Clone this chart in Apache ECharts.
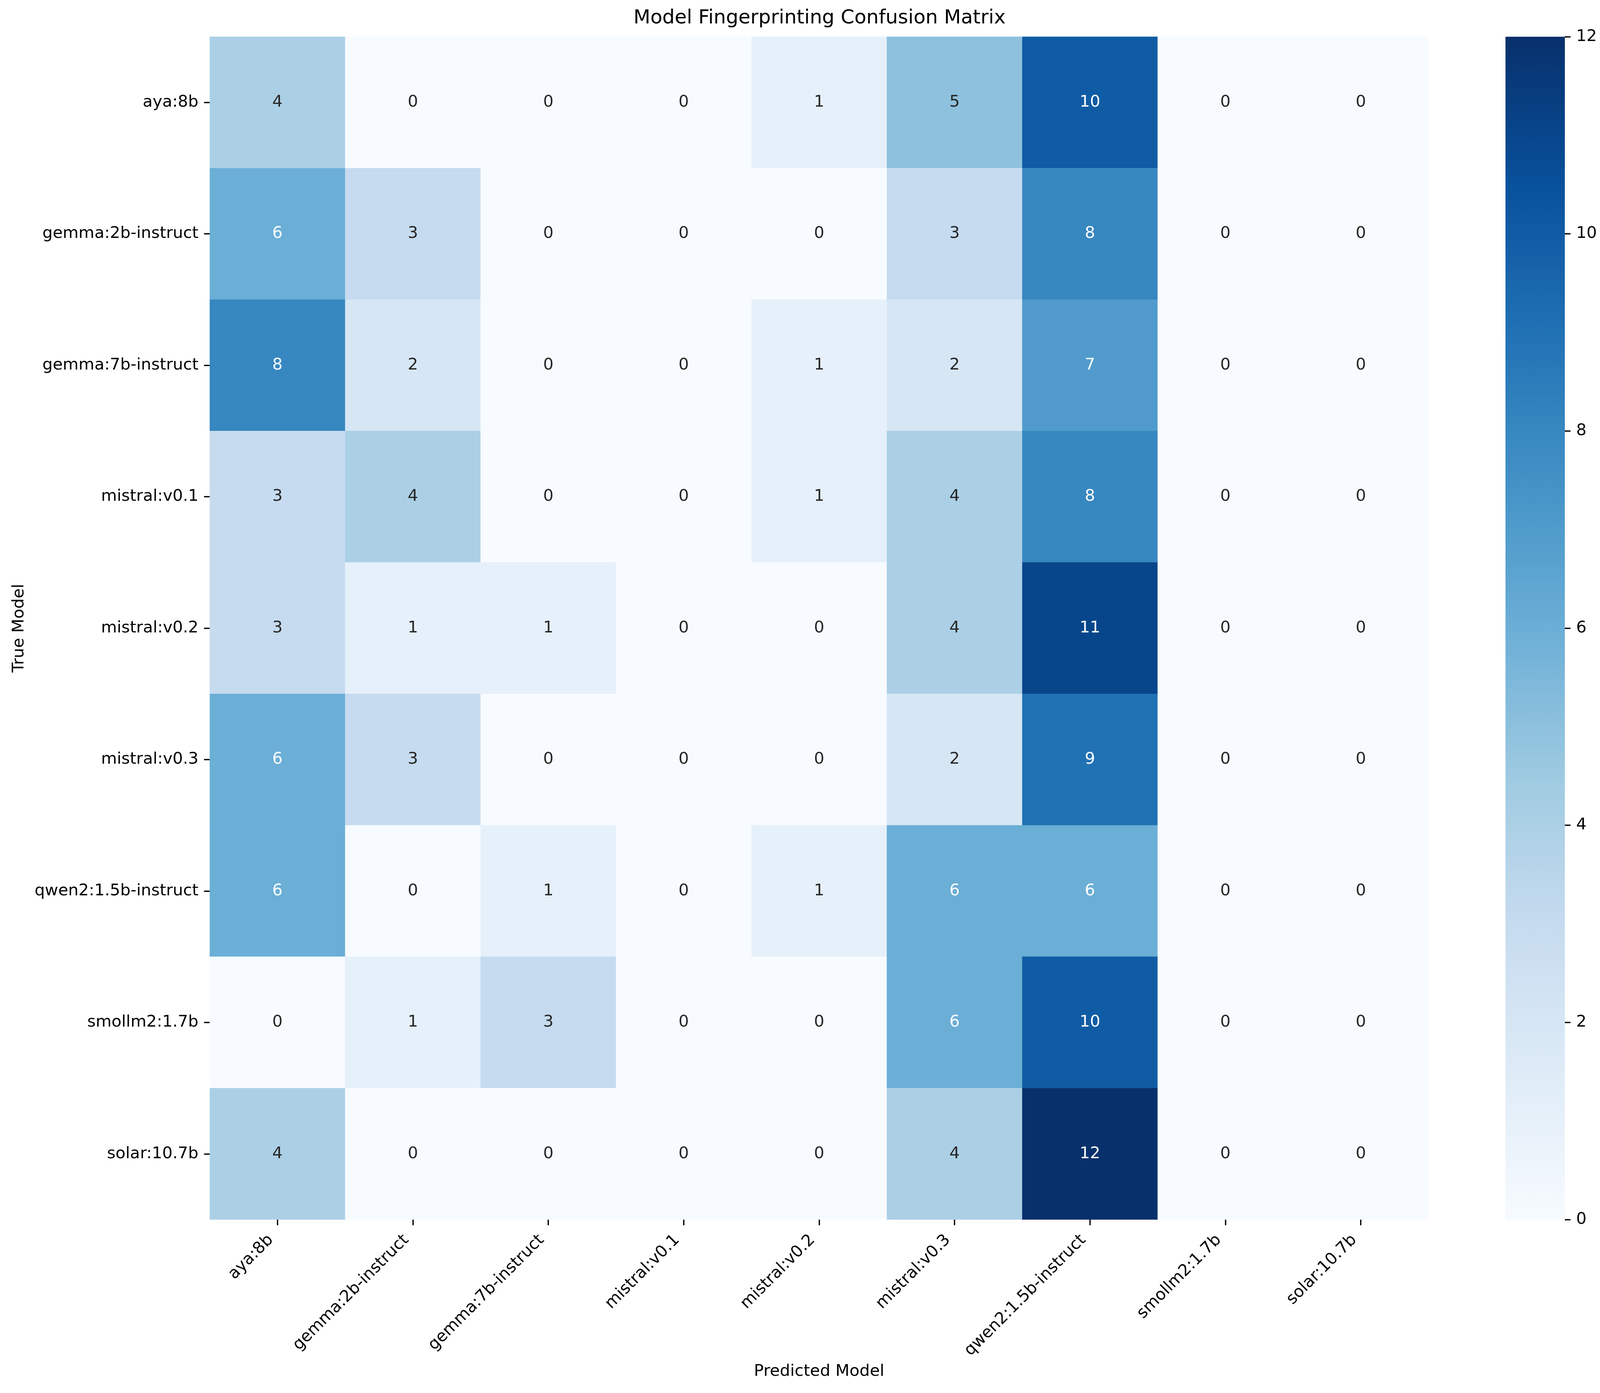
<!DOCTYPE html>
<html>
<head>
<meta charset="utf-8">
<script src="https://cdn.jsdelivr.net/npm/echarts@6/dist/echarts.min.js"></script>
<style>
html,body{margin:0;padding:0;background:#fff;}
#chart{width:4118px;height:3566px;}
</style>
</head>
<body>
<div id="chart"></div>
<script>
const titleText = 'Model Fingerprinting Confusion Matrix';
const xAxisName = 'Predicted Model';
const yAxisName = 'True Model';
const predictedModels = ['aya:8b','gemma:2b-instruct','gemma:7b-instruct','mistral:v0.1','mistral:v0.2','mistral:v0.3','qwen2:1.5b-instruct','smollm2:1.7b','solar:10.7b'];
const trueModels = ['aya:8b','gemma:2b-instruct','gemma:7b-instruct','mistral:v0.1','mistral:v0.2','mistral:v0.3','qwen2:1.5b-instruct','smollm2:1.7b','solar:10.7b'];
const row_aya8b        = [4,0,0,0,1,5,10,0,0];
const row_gemma2b      = [6,3,0,0,0,3,8,0,0];
const row_gemma7b      = [8,2,0,0,1,2,7,0,0];
const row_mistral01    = [3,4,0,0,1,4,8,0,0];
const row_mistral02    = [3,1,1,0,0,4,11,0,0];
const row_mistral03    = [6,3,0,0,0,2,9,0,0];
const row_qwen2        = [6,0,1,0,1,6,6,0,0];
const row_smollm2      = [0,1,3,0,0,6,10,0,0];
const row_solar        = [4,0,0,0,0,4,12,0,0];
const matrixRows = [row_aya8b,row_gemma2b,row_gemma7b,row_mistral01,row_mistral02,row_mistral03,row_qwen2,row_smollm2,row_solar];
const colorbarTicks = [0,2,4,6,8,10,12];
const vMin = 0, vMax = 12;

const blues = ['#f7fbff','#deebf7','#c6dbef','#9ecae1','#6baed6','#4292c6','#2171b5','#08519c','#08306b'];
const FONT = 'DejaVu Sans';
const FS = 41.67;

function hexToRgb(h){return [parseInt(h.slice(1,3),16),parseInt(h.slice(3,5),16),parseInt(h.slice(5,7),16)];}
function cmap(v){
  let t = (v - vMin)/(vMax - vMin); t = Math.max(0,Math.min(1,t));
  const p = t*(blues.length-1); const i = Math.min(Math.floor(p), blues.length-2); const f = p - i;
  const a = hexToRgb(blues[i]), b = hexToRgb(blues[i+1]);
  return a.map((c,k)=>c + (b[k]-c)*f);
}
function lum(rgb){
  const l = rgb.map(c=>{c/=255; return c<=0.03928? c/12.92 : Math.pow((c+0.055)/1.055,2.4);});
  return 0.2126*l[0]+0.7152*l[1]+0.0722*l[2];
}

const heatData = [];
matrixRows.forEach((row,i)=>{
  row.forEach((v,j)=>{
    const textColor = lum(cmap(v)) > 0.408 ? '#262626' : '#ffffff';
    heatData.push({value:[j,i,v], label:{color:textColor}});
  });
});

const chart = echarts.init(document.getElementById('chart'), null, {renderer:'canvas'});
const tickStyle = {color:'#000', width:3.33};
chart.setOption({
  animation:false,
  backgroundColor:'#fff',
  textStyle:{fontFamily:FONT},
  title:{
    text:titleText, left:2098, top:22, textAlign:'center', padding:0,
    textStyle:{fontFamily:FONT, fontSize:50, fontWeight:'normal', color:'#000'}
  },
  grid:[
    {left:537, right:461, top:94, bottom:444, containLabel:false},
    {left:3854, width:152, top:94, height:3028, containLabel:false}
  ],
  xAxis:[
    {type:'category', gridIndex:0, data:predictedModels, position:'bottom',
     name:xAxisName, nameLocation:'middle', nameGap:368,
     nameTextStyle:{fontFamily:FONT, fontSize:FS, color:'#000'},
     axisLine:{show:false},
     axisTick:{show:true, alignWithLabel:true, length:14.6, lineStyle:tickStyle},
     axisLabel:{rotate:45, margin:29, padding:[0,24,0,0], fontFamily:FONT, fontSize:FS, color:'#000', interval:0},
     splitLine:{show:false}},
    {type:'category', gridIndex:1, data:['cb'], show:false, boundaryGap:true}
  ],
  yAxis:[
    {type:'category', gridIndex:0, data:trueModels, inverse:true,
     name:yAxisName, nameLocation:'middle', nameGap:467, nameRotate:90,
     nameTextStyle:{fontFamily:FONT, fontSize:FS, color:'#000'},
     axisLine:{show:false},
     axisTick:{show:true, alignWithLabel:true, length:14.6, lineStyle:tickStyle},
     axisLabel:{margin:29, fontFamily:FONT, fontSize:FS, color:'#000', interval:0},
     splitLine:{show:false}},
    {type:'value', gridIndex:1, position:'right', min:vMin, max:vMax, interval:2,
     axisLine:{show:false},
     axisTick:{show:true, length:14.6, lineStyle:tickStyle},
     axisLabel:{margin:29, fontFamily:FONT, fontSize:FS, color:'#000',
       customValues: colorbarTicks},
     splitLine:{show:false}}
  ],
  visualMap:{
    show:false, type:'continuous', min:vMin, max:vMax, seriesIndex:0, dimension:2,
    inRange:{color:blues}
  },
  series:[
    {type:'heatmap', xAxisIndex:0, yAxisIndex:0, data:heatData,
     label:{show:true, fontFamily:FONT, fontSize:FS, formatter:p=>String(p.value[2])},
     itemStyle:{borderWidth:0},
     emphasis:{disabled:true}},
    {type:'bar', xAxisIndex:1, yAxisIndex:1, data:[vMax], barWidth:'100%', silent:true,
     itemStyle:{color:new echarts.graphic.LinearGradient(0,1,0,0, blues.map((c,i)=>({offset:i/(blues.length-1), color:c})))}}
  ]
});
</script>
</body>
</html>
